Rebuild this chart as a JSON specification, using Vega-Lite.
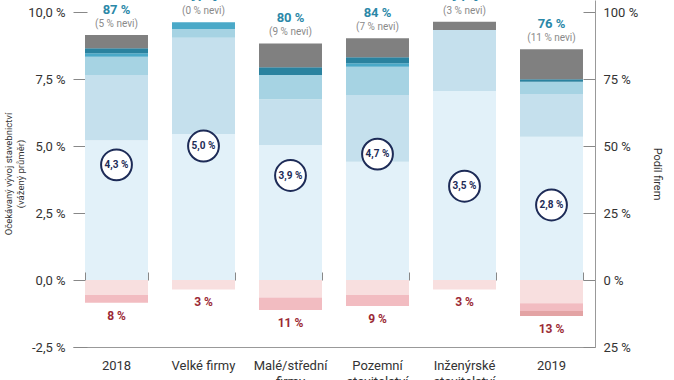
{
  "$schema": "https://vega.github.io/schema/vega-lite/v6.json",
  "width": 522,
  "height": 347,
  "autosize": "none",
  "padding": {"left": 73, "top": 0, "right": 79, "bottom": 33},
  "config": {
    "view": {"stroke": null},
    "font": "Roboto",
    "axis": {"labelFont": "Roboto", "titleFont": "Roboto", "grid": false, "labelColor": "#333333", "titleColor": "#333333", "tickColor": "#888888", "domainColor": "#999999", "tickWidth": 1}
  },
  "datasets": {
    "segs": [
      {"cat": "2018", "seg": "s1", "o": 1, "v": 5.22},
      {"cat": "2018", "seg": "s2", "o": 2, "v": 2.43},
      {"cat": "2018", "seg": "s3", "o": 3, "v": 0.68},
      {"cat": "2018", "seg": "s4", "o": 4, "v": 0.13},
      {"cat": "2018", "seg": "s5", "o": 5, "v": 0.19},
      {"cat": "2018", "seg": "nevi", "o": 6, "v": 0.49},
      {"cat": "2018", "seg": "n1", "o": 1, "v": -0.56},
      {"cat": "2018", "seg": "n2", "o": 2, "v": -0.29},
      {"cat": "Velké firmy", "seg": "s1", "o": 1, "v": 5.45},
      {"cat": "Velké firmy", "seg": "s2", "o": 2, "v": 3.59},
      {"cat": "Velké firmy", "seg": "s3", "o": 3, "v": 0.33},
      {"cat": "Velké firmy", "seg": "s4", "o": 4, "v": 0.25},
      {"cat": "Velké firmy", "seg": "n1", "o": 1, "v": -0.35},
      {"cat": "Malé/střední firmy", "seg": "s1", "o": 1, "v": 5.04},
      {"cat": "Malé/střední firmy", "seg": "s2", "o": 2, "v": 1.71},
      {"cat": "Malé/střední firmy", "seg": "s3", "o": 3, "v": 0.9},
      {"cat": "Malé/střední firmy", "seg": "s5", "o": 5, "v": 0.29},
      {"cat": "Malé/střední firmy", "seg": "nevi", "o": 6, "v": 0.89},
      {"cat": "Malé/střední firmy", "seg": "n1", "o": 1, "v": -0.65},
      {"cat": "Malé/střední firmy", "seg": "n2", "o": 2, "v": -0.47},
      {"cat": "Pozemní stavitelství", "seg": "s1", "o": 1, "v": 4.41},
      {"cat": "Pozemní stavitelství", "seg": "s2", "o": 2, "v": 2.49},
      {"cat": "Pozemní stavitelství", "seg": "s3", "o": 3, "v": 1.06},
      {"cat": "Pozemní stavitelství", "seg": "s4", "o": 4, "v": 0.13},
      {"cat": "Pozemní stavitelství", "seg": "s5", "o": 5, "v": 0.22},
      {"cat": "Pozemní stavitelství", "seg": "nevi", "o": 6, "v": 0.71},
      {"cat": "Pozemní stavitelství", "seg": "n1", "o": 1, "v": -0.56},
      {"cat": "Pozemní stavitelství", "seg": "n2", "o": 2, "v": -0.41},
      {"cat": "Inženýrské stavitelství", "seg": "s1", "o": 1, "v": 7.05},
      {"cat": "Inženýrské stavitelství", "seg": "s2", "o": 2, "v": 2.28},
      {"cat": "Inženýrské stavitelství", "seg": "nevi", "o": 6, "v": 0.31},
      {"cat": "Inženýrské stavitelství", "seg": "n1", "o": 1, "v": -0.35},
      {"cat": "2019", "seg": "s1", "o": 1, "v": 5.35},
      {"cat": "2019", "seg": "s2", "o": 2, "v": 1.59},
      {"cat": "2019", "seg": "s3", "o": 3, "v": 0.46},
      {"cat": "2019", "seg": "s5", "o": 5, "v": 0.09},
      {"cat": "2019", "seg": "nevi", "o": 6, "v": 1.12},
      {"cat": "2019", "seg": "n1", "o": 1, "v": -0.87},
      {"cat": "2019", "seg": "n2", "o": 2, "v": -0.29},
      {"cat": "2019", "seg": "n3", "o": 3, "v": -0.18}
    ],
    "labels": [
      {"cat": "2018", "top": 9.14, "pos": "87 %", "nevi": "(5 % nevi)", "bottom": -0.85, "neg": "8 %", "avg": 4.3, "avgl": "4,3 %"},
      {"cat": "Velké firmy", "top": 9.62, "pos": "97 %", "nevi": "(0 % nevi)", "bottom": -0.35, "neg": "3 %", "avg": 5.0, "avgl": "5,0 %"},
      {"cat": "Malé/střední firmy", "top": 8.83, "pos": "80 %", "nevi": "(9 % nevi)", "bottom": -1.12, "neg": "11 %", "avg": 3.9, "avgl": "3,9 %"},
      {"cat": "Pozemní stavitelství", "top": 9.02, "pos": "84 %", "nevi": "(7 % nevi)", "bottom": -0.97, "neg": "9 %", "avg": 4.7, "avgl": "4,7 %"},
      {"cat": "Inženýrské stavitelství", "top": 9.64, "pos": "94 %", "nevi": "(3 % nevi)", "bottom": -0.35, "neg": "3 %", "avg": 3.5, "avgl": "3,5 %"},
      {"cat": "2019", "top": 8.61, "pos": "76 %", "nevi": "(11 % nevi)", "bottom": -1.34, "neg": "13 %", "avg": 2.8, "avgl": "2,8 %"}
    ]
  },
  "resolve": {"axis": {"x": "independent", "y": "independent"}},
  "layer": [
    {
      "data": {"name": "segs"},
      "mark": {"type": "bar"},
      "encoding": {
        "x": {
          "field": "cat", "type": "nominal", "sort": null,
          "scale": {"domain": ["2018", "Velké firmy", "Malé/střední firmy", "Pozemní stavitelství", "Inženýrské stavitelství", "2019"], "paddingInner": 0.276, "paddingOuter": 0.138},
          "axis": {
            "orient": "bottom", "title": null, "ticks": false, "domain": true, "labelAngle": 0,
            "labelPadding": 12, "labelFontSize": 13, "labelLineHeight": 16, "labelBaseline": "top",
            "labelExpr": "datum.value == 'Velké firmy' || datum.value == '2018' || datum.value == '2019' ? datum.value : split(datum.value, ' ')"
          }
        },
        "y": {
          "field": "v", "type": "quantitative", "stack": "zero",
          "scale": {"domain": [-2.5, 10.45], "nice": false, "zero": false},
          "axis": {
            "orient": "left", "offset": -14, "values": [-2.5, 0, 2.5, 5, 7.5, 10], "domain": false,
            "tickSize": 14, "labelPadding": 8, "labelFontSize": 13,
            "labelExpr": "(datum.value < 0 ? '-' : '') + replace(format(abs(datum.value), '.1f'), '.', ',') + ' %'",
            "title": ["Očekávaný vývoj stavebnictví", "(vážený průměr)"],
            "titleFontSize": 9.5, "titleLineHeight": 12, "titleFontWeight": "normal", "titlePadding": 2
          }
        },
        "color": {
          "field": "seg", "type": "nominal", "legend": null,
          "scale": {
            "domain": ["s1", "s2", "s3", "s4", "s5", "nevi", "n1", "n2", "n3"],
            "range": ["#e2f1f9", "#c5e0ed", "#a6d3e3", "#4aa9c8", "#2a829f", "#808080", "#f8dfdf", "#f2bcc1", "#e3a3a4"]
          }
        },
        "order": {"field": "o", "type": "quantitative", "sort": "ascending"}
      }
    },
    {
      "mark": {"type": "rule", "color": "#999999", "strokeWidth": 1},
      "encoding": {"y": {"datum": 0, "type": "quantitative", "axis": null}}
    },
    {
      "data": {"name": "labels"},
      "mark": {"type": "text", "fontWeight": "bold", "fontSize": 13, "color": "#2b88a8", "dy": -25, "baseline": "middle"},
      "encoding": {
        "x": {
          "field": "cat", "type": "nominal", "sort": null,
          "axis": {"orient": "bottom", "offset": -75, "labels": false, "domain": false, "title": null, "tickBand": "extent", "tickSize": 8, "ticks": true, "zindex": 1}
        },
        "y": {
          "field": "top", "type": "quantitative",
          "axis": {
            "orient": "right", "offset": -12, "values": [-2.5, 0, 2.5, 5, 7.5, 10], "domain": false,
            "tickSize": 12, "labelPadding": 8, "labelFontSize": 13,
            "labelExpr": "format(abs(datum.value) * 10, 'd') + ' %'",
            "title": "Podíl firem", "titleFontSize": 11, "titleFontWeight": "normal", "titlePadding": 14
          }
        },
        "text": {"field": "pos"}
      }
    },
    {
      "data": {"name": "labels"},
      "mark": {"type": "text", "fontSize": 10, "color": "#8a8a8a", "dy": -11, "baseline": "middle"},
      "encoding": {
        "x": {"field": "cat", "type": "nominal", "sort": null, "axis": null},
        "y": {
          "field": "top", "type": "quantitative",
          "axis": {"orient": "right", "domain": true, "ticks": false, "labels": false, "title": null, "offset": 0}
        },
        "text": {"field": "nevi"}
      }
    },
    {
      "data": {"name": "labels"},
      "mark": {"type": "text", "fontWeight": "bold", "fontSize": 12, "color": "#9b2a35", "dy": 13, "baseline": "middle"},
      "encoding": {
        "x": {"field": "cat", "type": "nominal", "sort": null, "axis": null},
        "y": {"field": "bottom", "type": "quantitative", "axis": null},
        "text": {"field": "neg"}
      }
    },
    {
      "data": {"name": "labels"},
      "mark": {"type": "point", "shape": "circle", "filled": true, "fill": "white", "stroke": "#1d2b57", "strokeWidth": 2, "size": 950, "opacity": 1},
      "encoding": {
        "x": {"field": "cat", "type": "nominal", "sort": null, "axis": null},
        "y": {"field": "avg", "type": "quantitative", "axis": null}
      }
    },
    {
      "data": {"name": "labels"},
      "mark": {"type": "text", "fontWeight": "bold", "fontSize": 10, "color": "#1d2b57", "baseline": "middle"},
      "encoding": {
        "x": {"field": "cat", "type": "nominal", "sort": null, "axis": null},
        "y": {"field": "avg", "type": "quantitative", "axis": null},
        "text": {"field": "avgl"}
      }
    }
  ]
}
